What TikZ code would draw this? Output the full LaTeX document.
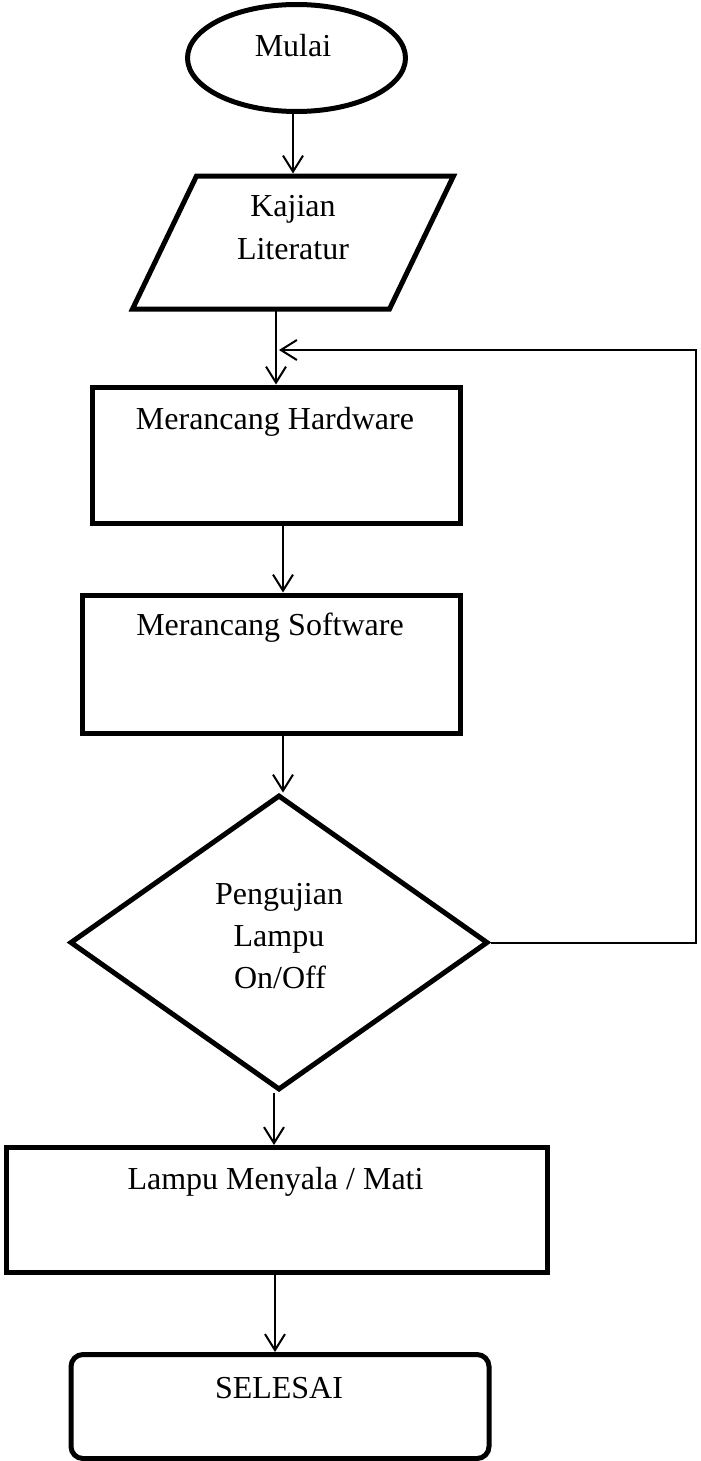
\documentclass[tikz,border=0pt]{standalone}
\usepackage{fontspec}
\setmainfont{Liberation Serif}
\usetikzlibrary{shapes.geometric,arrows.meta,calc}
\tikzset{
  shapeline/.style={draw=black, line width=5pt, inner sep=0pt, fill=none},
  boxshape/.style={shapeline, rectangle},
  arr/.style={draw=black, line width=2pt, -{Straight Barb[length=16pt,width=20pt,line width=2pt]}},
  txt/.style={font=\fontsize{32}{38}\selectfont, anchor=base, inner sep=0pt}
}
\begin{document}
\begin{tikzpicture}[x=1pt,y=-1pt]
\useasboundingbox (0,0) rectangle (701,1461);
% shapes
\node[shapeline, ellipse, minimum width=218pt, minimum height=107pt] (mulai) at (296.5,58) {};
\node[rectangle, inner sep=0pt, outer sep=0pt, minimum width=321pt, minimum height=133pt] (lit) at (293,242.5) {};
\draw[line width=5pt, line join=miter] ($(lit.north west)+(64,0)$) -- (lit.north east) -- ($(lit.south east)+(-64,0)$) -- (lit.south west) -- cycle;
\node[boxshape, minimum width=368pt, minimum height=136pt] (hw) at (276,455) {};
\node[boxshape, minimum width=378pt, minimum height=138pt] (sw) at (271,664) {};
\node[shapeline, diamond, minimum width=418pt, minimum height=295pt] (uji) at (279,942.5) {};
\node[boxshape, minimum width=541pt, minimum height=125pt] (lampu) at (276.5,1210) {};
\node[boxshape, rounded corners=12pt, minimum width=418pt, minimum height=104pt] (selesai) at (280,1406.5) {};
% texts
\node[txt] (tmulai) at (293,57) {Mulai};
\node[txt] (tlit1) at (293,216) {Kajian};
\node[txt] (tlit2) at (293,259) {Literatur};
\node[txt] (thw) at (275,429) {Merancang Hardware};
\node[txt] (tsw) at (270,635) {Merancang Software};
\node[txt] (tuji1) at (279,904) {Pengujian};
\node[txt] (tuji2) at (279,946) {Lampu};
\node[txt] (tuji3) at (280,988) {On/Off};
\node[txt] (tlampu) at (275.5,1189) {Lampu Menyala / Mati};
\node[txt] (tselesai) at (279,1398) {SELESAI};
% connectors
\draw[arr] ($(mulai.south)+(-3.5,0)$) -- ($(lit.north)+(0,-2.5)$);
\draw[arr] (hw.north |- lit.south) -- (hw.north);
\draw[arr] (uji.east) -- ++(205,0) |- ($(hw.north)+(3,-34.5)$);
\draw[arr] ($(hw.south)+(7,0)$) -- ($(sw.north)+(12,0)$);
\draw[arr] ($(sw.south)+(12,0)$) -- ($(uji.north)+(4,0)$);
\draw[arr] ($(uji.south)+(-5,0)$) -- ($(lampu.north)+(-2.5,0)$);
\draw[arr] ($(lampu.south)+(-1.5,0)$) -- ($(selesai.north)+(-5,0)$);
\end{tikzpicture}
\end{document}
